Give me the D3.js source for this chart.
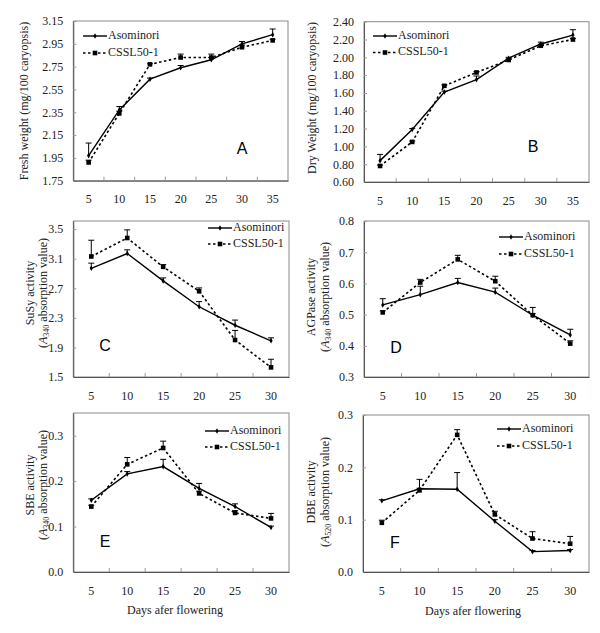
<!DOCTYPE html>
<html><head><meta charset="utf-8">
<script src="https://cdn.jsdelivr.net/npm/d3@7/dist/d3.min.js"></script>
<style>body{margin:0;background:#fff}svg{display:block}
svg text{font-family:"Liberation Serif","Times New Roman",serif;}
svg text.letter{font-family:"Liberation Sans",Arial,sans-serif;}
</style>
</head><body>
<svg id="c" width="600" height="633"></svg>
<script>
// ---- data ----
const days7 = [5, 10, 15, 20, 25, 30, 35];
const days6 = [5, 10, 15, 20, 25, 30];
const seriesNames = ["Asominori", "CSSL50-1"];

// A: fresh weight
const freshAso = [1.97, 2.37, 2.64, 2.74, 2.81, 2.95, 3.03];
const freshAsoErr = [0.11, 0.03, 0.01, 0.02, 0.02, 0.02, 0.05];
const freshCssl = [1.91, 2.34, 2.77, 2.83, 2.83, 2.92, 2.98];
const freshCsslErr = [0.02, 0.02, 0.005, 0.03, 0.03, 0.02, 0.01];
const freshTicks = [1.75, 1.95, 2.15, 2.35, 2.55, 2.75, 2.95, 3.15];

// B: dry weight
const dryAso = [0.84, 1.19, 1.61, 1.75, 1.99, 2.15, 2.25];
const dryAsoErr = [0.07, 0.01, 0.01, 0.04, 0.01, 0.02, 0.06];
const dryCssl = [0.78, 1.05, 1.68, 1.83, 1.97, 2.13, 2.20];
const dryCsslErr = [0.01, 0.01, 0.01, 0.01, 0.01, 0.01, 0.01];
const dryTicks = [0.60, 0.80, 1.00, 1.20, 1.40, 1.60, 1.80, 2.00, 2.20, 2.40];

// C: SuSy
const susyAso = [2.97, 3.17, 2.80, 2.45, 2.20, 1.99];
const susyAsoErr = [0.07, 0.05, 0.04, 0.07, 0.07, 0.04];
const susyCssl = [3.13, 3.38, 2.99, 2.66, 2.00, 1.63];
const susyCsslErr = [0.22, 0.11, 0.03, 0.045, 0.13, 0.11];
const susyTicks = [1.5, 1.9, 2.3, 2.7, 3.1, 3.5];

// D: AGPase
const agpAso = [0.531, 0.564, 0.603, 0.572, 0.498, 0.435];
const agpAsoErr = [0.02, 0.027, 0.013, 0.013, 0.025, 0.018];
const agpCssl = [0.507, 0.603, 0.677, 0.607, 0.498, 0.407];
const agpCsslErr = [0.005, 0.01, 0.013, 0.016, 0.005, 0.009];
const agpTicks = [0.3, 0.4, 0.5, 0.6, 0.7, 0.8];

// E: SBE
const sbeAso = [0.158, 0.216, 0.232, 0.184, 0.144, 0.098];
const sbeAsoErr = [0.003, 0.005, 0.016, 0.011, 0.006, 0.003];
const sbeCssl = [0.144, 0.237, 0.273, 0.173, 0.130, 0.118];
const sbeCsslErr = [0.003, 0.015, 0.015, 0.005, 0.005, 0.011];
const sbeTicks = [0.0, 0.1, 0.2, 0.3];

// F: DBE
const dbeAso = [0.136, 0.159, 0.158, 0.097, 0.039, 0.041];
const dbeAsoErr = [0.002, 0.018, 0.032, 0.003, 0.002, 0.002];
const dbeCssl = [0.094, 0.156, 0.262, 0.110, 0.064, 0.054];
const dbeCsslErr = [0.005, 0.004, 0.01, 0.006, 0.013, 0.014];
const dbeTicks = [0.0, 0.1, 0.2, 0.3];

// ---- layout ----
const SERIF = "Liberation Serif";
const SANS = "Liberation Sans";
const svg = d3.select("#c");

const panels = [
  {cats: days7, aso: freshAso, asoE: freshAsoErr, cs: freshCssl, csE: freshCsslErr, ticks: freshTicks, dom: [1.75, 3.15], fmt: ".2f",
   box: [73.3, 21, 288, 180.7], ylab: [["Fresh weight (mg/100 caryopsis)", 25]], ylabY: 101, sub: null,
   leg: [83, 36, 17], letter: ["A", 242, 150], xtitle: null},
  {cats: days7, aso: dryAso, asoE: dryAsoErr, cs: dryCssl, csE: dryCsslErr, ticks: dryTicks, dom: [0.6, 2.4], fmt: ".2f",
   box: [364, 21.7, 589, 182], ylab: [["Dry Weight (mg/100 caryopsis)", 313]], ylabY: 98, sub: null,
   leg: [373, 36, 16.5], letter: ["B", 533, 148], xtitle: null},
  {cats: days6, aso: susyAso, asoE: susyAsoErr, cs: susyCssl, csE: susyCsslErr, ticks: susyTicks, dom: [1.5, 3.61], fmt: ".1f",
   box: [73.3, 221, 289, 377], ylab: [["SuSy activity", 31]], ylabY: 293, sub: ["340", 44],
   leg: [208, 228, 16], letter: ["C", 105, 347], xtitle: null},
  {cats: days6, aso: agpAso, asoE: agpAsoErr, cs: agpCssl, csE: agpCsslErr, ticks: agpTicks, dom: [0.3, 0.8], fmt: ".1f",
   box: [364, 221, 589, 377], ylab: [["AGPase activity", 312]], ylabY: 297, sub: ["340", 326],
   leg: [499, 237, 17], letter: ["D", 396, 349], xtitle: null},
  {cats: days6, aso: sbeAso, asoE: sbeAsoErr, cs: sbeCssl, csE: sbeCsslErr, ticks: sbeTicks, dom: [0, 0.35], fmt: ".1f",
   box: [73.3, 413, 289, 572], ylab: [["SBE activity", 31]], ylabY: 485, sub: ["340", 44],
   leg: [205, 431, 16], letter: ["E", 105, 543], xtitle: [175, 611]},
  {cats: days6, aso: dbeAso, asoE: dbeAsoErr, cs: dbeCssl, csE: dbeCsslErr, ticks: dbeTicks, dom: [0, 0.3], fmt: ".1f",
   box: [363, 415, 589, 572], ylab: [["DBE activity", 312]], ylabY: 492, sub: ["520", 326],
   leg: [497, 429, 17], letter: ["F", 395, 544], xtitle: [473, 612]}
];

function marker(g, type, x, y) {
  if (type === 0) {
    g.append("path").attr("d", d3.symbol(d3.symbolDiamond, 9)()).attr("transform", `translate(${x},${y})`).attr("fill", "#000");
  } else {
    g.append("rect").attr("x", x - 2.3).attr("y", y - 2.3).attr("width", 4.6).attr("height", 4.6).attr("fill", "#000");
  }
}

panels.forEach(p => {
  const [x0, y0, x1, y1] = p.box;
  const g = svg.append("g");
  const x = d3.scaleBand().domain(p.cats).range([x0, x1]);
  const y = d3.scaleLinear().domain(p.dom).range([y1, y0]);
  const cx = d => x(d) + x.bandwidth() / 2;

  // box
  g.append("rect").attr("x", x0).attr("y", y0).attr("width", x1 - x0).attr("height", y1 - y0)
    .attr("fill", "none").attr("stroke", "#8a8a8a").attr("stroke-width", 1);

  // y axis
  const ya = d3.axisLeft(y).tickValues(p.ticks).tickFormat(d3.format(p.fmt)).tickSizeInner(-3).tickSizeOuter(0).tickPadding(10);
  const yg = g.append("g").attr("transform", `translate(${x0},0)`).call(ya);
  yg.attr("font-family", null);
  yg.select(".domain").attr("stroke", "#555");
  yg.selectAll(".tick line").attr("stroke", "#999");
  yg.selectAll("text").style("font-family", SERIF).style("font-size", "12px").attr("fill", "#222");

  // x axis
  const xa = d3.axisBottom(x).tickSize(0).tickPadding(14);
  const xg = g.append("g").attr("transform", `translate(0,${y1})`).call(xa);
  xg.attr("font-family", null);
  xg.select(".domain").attr("stroke", "#555");
  xg.selectAll("text").style("font-family", SERIF).style("font-size", "12px").attr("fill", "#222");
  // inward tick marks at category boundaries
  g.append("g").selectAll("line").data(p.cats.slice(1)).join("line")
    .attr("x1", d => x(d)).attr("x2", d => x(d)).attr("y1", y1).attr("y2", y1 - 4)
    .attr("stroke", "#999");

  // y label
  g.append("text").attr("transform", `translate(${p.ylab[0][1]},${p.ylabY}) rotate(-90)`)
    .attr("text-anchor", "middle").attr("dominant-baseline", "middle")
    .style("font-family", SERIF).style("font-size", "12px").attr("fill", "#222").text(p.ylab[0][0]);
  if (p.sub) {
    const t = g.append("text").attr("transform", `translate(${p.sub[1]},${p.ylabY}) rotate(-90)`)
      .attr("text-anchor", "middle").attr("dominant-baseline", "middle")
      .style("font-family", SERIF).style("font-size", "12px").attr("fill", "#222");
    t.append("tspan").text("(");
    t.append("tspan").style("font-style", "italic").text("A");
    t.append("tspan").style("font-size", "8px").attr("dy", 3).text(p.sub[0]);
    t.append("tspan").attr("dy", -3).text(" absorption value)");
  }

  // series
  const series = [
    {v: p.aso, e: p.asoE, dash: null, type: 0},
    {v: p.cs, e: p.csE, dash: "2.5,2.5", type: 1}
  ];
  const line = d3.line().x((d, i) => cx(p.cats[i])).y(d => y(d));
  series.forEach(s => {
    // error bars (plus only)
    p.cats.forEach((c, i) => {
      const xx = cx(c), ya0 = y(s.v[i]), ya1 = y(s.v[i] + s.e[i]);
      g.append("line").attr("x1", xx).attr("x2", xx).attr("y1", ya0).attr("y2", ya1).attr("stroke", "#000").attr("stroke-width", 1);
      g.append("line").attr("x1", xx - 3).attr("x2", xx + 3).attr("y1", ya1).attr("y2", ya1).attr("stroke", "#000").attr("stroke-width", 1);
    });
    g.append("path").datum(s.v).attr("d", line).attr("fill", "none").attr("stroke", "#000")
      .attr("stroke-width", s.type === 0 ? 1.4 : 1.6).attr("stroke-dasharray", s.dash);
    s.v.forEach((v, i) => marker(g, s.type, cx(p.cats[i]), y(v)));
  });

  // legend
  const [lx, ly, ld] = p.leg;
  series.forEach((s, k) => {
    const yy = ly + k * ld;
    g.append("line").attr("x1", lx).attr("x2", lx + 24).attr("y1", yy).attr("y2", yy).attr("stroke", "#000")
      .attr("stroke-width", s.type === 0 ? 1.4 : 1.6).attr("stroke-dasharray", s.dash);
    marker(g, s.type, lx + 12, yy);
    g.append("text").attr("x", lx + 25).attr("y", yy).attr("dominant-baseline", "middle")
      .style("font-family", SERIF).style("font-size", "12px").attr("fill", "#222").text(seriesNames[k]);
  });

  // panel letter
  g.append("text").attr("class", "letter").attr("x", p.letter[1]).attr("y", p.letter[2]).attr("text-anchor", "middle").attr("dominant-baseline", "middle")
    .style("font-family", SANS).style("font-size", "16px").attr("fill", "#000").text(p.letter[0]);

  // x title
  if (p.xtitle) {
    g.append("text").attr("x", p.xtitle[0]).attr("y", p.xtitle[1]).attr("text-anchor", "middle").attr("dominant-baseline", "middle")
      .style("font-family", SERIF).style("font-size", "12px").attr("fill", "#222").text("Days afer flowering");
  }
});
</script>
</body></html>
